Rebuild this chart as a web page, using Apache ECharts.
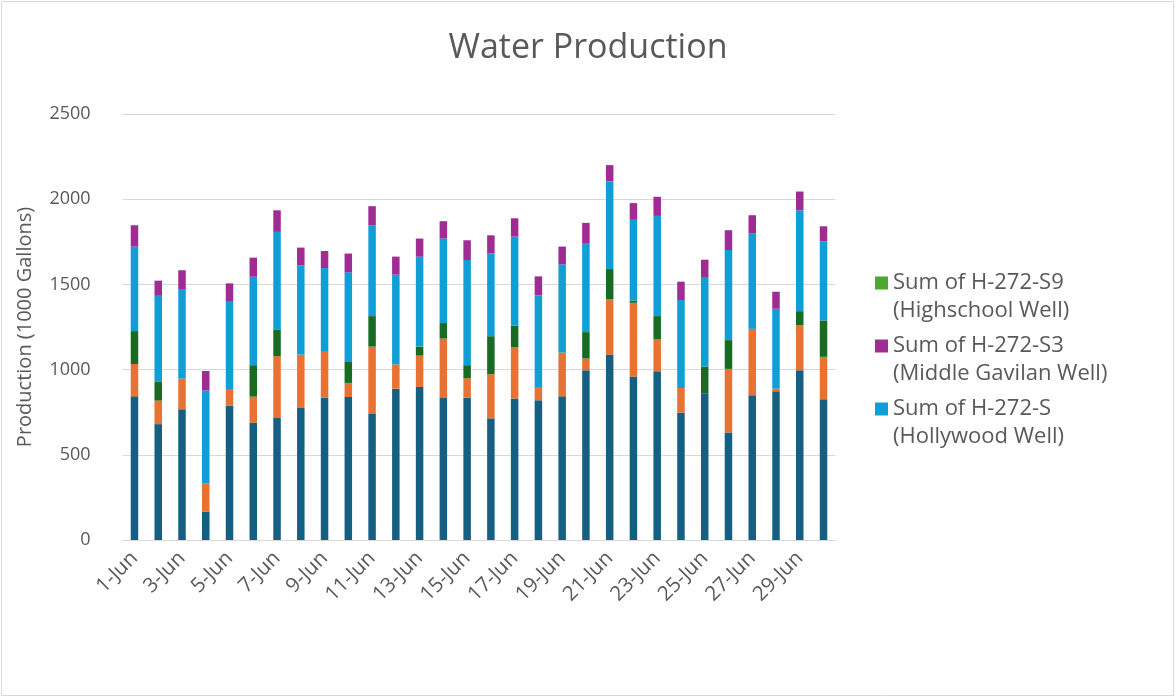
<!DOCTYPE html>
<html>
<head>
<meta charset="utf-8">
<script src="https://cdn.jsdelivr.net/npm/echarts@6/dist/echarts.min.js"></script>
<style>
html,body{margin:0;padding:0;background:#fff;}
#chart{width:1176px;height:698px;}
</style>
</head>
<body>
<div id="chart"></div>
<script>
const days = ['1-Jun','2-Jun','3-Jun','4-Jun','5-Jun','6-Jun','7-Jun','8-Jun','9-Jun','10-Jun',
  '11-Jun','12-Jun','13-Jun','14-Jun','15-Jun','16-Jun','17-Jun','18-Jun','19-Jun','20-Jun',
  '21-Jun','22-Jun','23-Jun','24-Jun','25-Jun','26-Jun','27-Jun','28-Jun','29-Jun','30-Jun'];

// Bottom segment (dark blue)
const seriesDarkBlue = [843,680,767,167,790,688,716,775,835,839,
  743,888,898,833,835,714,831,820,843,996,
  1088,959,990,747,861,631,849,873,996,826];
// Orange segment
const seriesOrange = [190,138,180,166,96,153,363,313,269,83,
  392,142,184,349,114,259,299,78,257,69,
  324,433,187,145,0,373,390,15,265,249];
// Dark green segment
const seriesDarkGreen = [193,113,0,0,0,185,154,0,0,123,
  179,0,53,91,77,223,127,0,0,155,
  178,12,137,0,157,169,0,0,82,213];
// Sum of H-272-S (Hollywood Well)
const seriesHollywood = [496,502,526,544,516,519,575,524,492,526,
  533,527,528,496,617,485,524,539,518,523,
  516,475,588,516,521,529,559,469,591,465];
// Sum of H-272-S3 (Middle Gavilan Well)
const seriesMiddleGavilan = [125,89,110,115,104,112,127,104,100,110,
  112,106,106,102,116,107,107,110,104,118,
  94,98,112,108,106,116,108,100,111,88];
// Sum of H-272-S9 (Highschool Well)
const seriesHighschool = [0,0,0,0,0,0,0,0,0,0,
  0,0,0,0,0,0,0,0,0,0,
  0,0,0,0,0,0,0,0,0,0];

const yTicks = [0,500,1000,1500,2000,2500];

const NAME_S9 = 'Sum of H-272-S9 (Highschool Well)';
const NAME_S3 = 'Sum of H-272-S3 (Middle Gavilan Well)';
const NAME_S  = 'Sum of H-272-S (Hollywood Well)';
const legendLines = {};
legendLines[NAME_S9] = 'Sum of H-272-S9\n(Highschool Well)';
legendLines[NAME_S3] = 'Sum of H-272-S3\n(Middle Gavilan Well)';
legendLines[NAME_S]  = 'Sum of H-272-S\n(Hollywood Well)';

const FONT = '"Open Sans", "Noto Sans", sans-serif';
const TXT = '#595959';

function mk(name, data, color) {
  return {
    name: name, type: 'bar', stack: 'total', data: data,
    barWidth: 7.5,
    itemStyle: {color: color},
    emphasis: {disabled: true}
  };
}

const chart = echarts.init(document.getElementById('chart'), null, {renderer: 'canvas'});
chart.setOption({
  animation: false,
  textStyle: {fontFamily: FONT},
  graphic: [{
    type: 'rect', silent: true, z: -10,
    shape: {x: 1.5, y: 1.5, width: 1172, height: 694},
    style: {fill: '#fff', stroke: '#D9D9D9', lineWidth: 1}
  }],
  title: {
    text: 'Water Production',
    left: 'center', top: 26,
    textStyle: {fontFamily: FONT, fontSize: 34, fontWeight: 'normal', color: TXT}
  },
  legend: {
    orient: 'vertical',
    left: 875, top: 241,
    padding: 0,
    itemWidth: 13, itemHeight: 13,
    itemGap: -21,
    icon: 'rect',
    data: [NAME_S9, NAME_S3, NAME_S],
    formatter: function (n) { return ' \n' + (legendLines[n] || n); },
    textStyle: {fontFamily: FONT, fontSize: 22, color: TXT, lineHeight: 28},
    selectedMode: false
  },
  grid: {left: 122.6, right: 340.6, top: 114, bottom: 158, containLabel: false},
  xAxis: {
    type: 'category',
    data: days,
    axisLine: {lineStyle: {color: '#D9D9D9', width: 1}},
    axisTick: {show: false},
    axisLabel: {interval: 1, rotate: 45, margin: 15, fontSize: 20.5, color: TXT, fontFamily: FONT}
  },
  yAxis: {
    type: 'value',
    min: yTicks[0], max: yTicks[yTicks.length - 1], interval: 500,
    name: 'Production (1000 Gallons)',
    nameLocation: 'middle',
    nameGap: 87,
    nameTextStyle: {fontSize: 20, color: TXT, fontFamily: FONT},
    axisLine: {show: false},
    axisTick: {show: false},
    axisLabel: {fontSize: 18, color: TXT, margin: 32, fontFamily: FONT,
      formatter: function (v) { return String(v); }},
    splitLine: {lineStyle: {color: '#D9D9D9', width: 1}}
  },
  series: [
    mk('Series 1', seriesDarkBlue, '#156082'),
    mk('Series 2', seriesOrange, '#E97132'),
    mk('Series 3', seriesDarkGreen, '#196B24'),
    mk(NAME_S, seriesHollywood, '#0F9ED5'),
    mk(NAME_S3, seriesMiddleGavilan, '#A02B93'),
    mk(NAME_S9, seriesHighschool, '#4EA72E')
  ]
});
</script>
</body>
</html>
